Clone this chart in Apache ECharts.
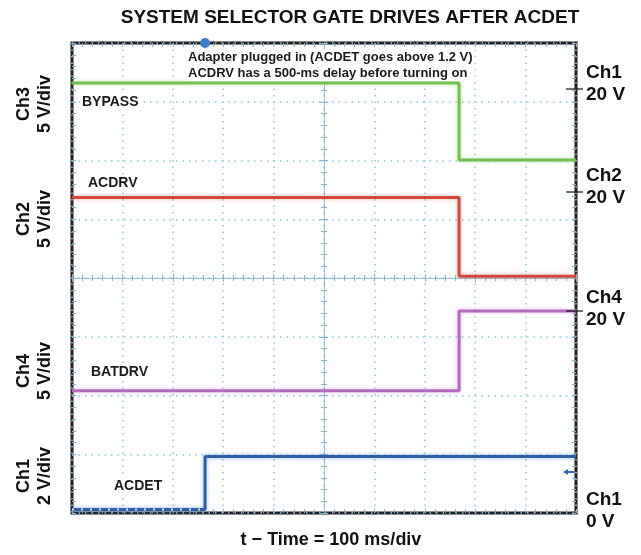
<!DOCTYPE html>
<html>
<head>
<meta charset="utf-8">
<title>System selector gate drives after ACDET</title>
<script src="https://cdn.jsdelivr.net/npm/echarts@6/dist/echarts.min.js"></script>
<style>
    html, body { margin: 0; padding: 0; background: #fff; }
    #main { width: 641px; height: 555px; }
</style>
</head>
<body>
<div id="main"></div>
<script>
// time in ms from screen centre (10 div x 100 ms), level in divisions from centre
var acdetTimes = [-500, -236, 500];
var acdetLevels = [-3.94, -3.04, -3.04];
var gateTimes = [-500, 268, 500];
var bypassLevels = [3.32, 2.01, 2.01];
var acdrvLevels = [1.37, 0.03, 0.03];
var batdrvLevels = [-1.92, -0.56, -0.56];

var traceNames = ['BYPASS', 'ACDRV', 'BATDRV', 'ACDET'];
var leftScales = ['Ch3\n5 V/div', 'Ch2\n5 V/div', 'Ch4\n5 V/div', 'Ch1\n2 V/div'];
var rightScales = ['Ch1\n20 V', 'Ch2\n20 V', 'Ch4\n20 V', 'Ch1\n0 V'];
var noteLines = ['Adapter plugged in (ACDET goes above 1.2 V)', 'ACDRV has a 500-ms delay before turning on'];
var titleText = 'SYSTEM SELECTOR GATE DRIVES AFTER ACDET';
var xTitle = 't \u2212 Time = 100 ms/div';

(function() {
    var FONT = '"Liberation Sans", Arial, Helvetica, sans-serif';
    var myChart = echarts.init(document.getElementById('main'), null, { renderer: 'canvas' });

    function pairs(times, levels) {
        return times.map(function(t, i) { return [t, levels[i]]; });
    }

    var tickStyle = { color: '#7fb6d0', width: 1 };
    var gridDots = { color: '#86c6e3', type: [1.5, 5], width: 1.5 };

    // centre cross (onZero) or frame edge ticks (edge = true)
    function axis(dim, pos, main, edge) {
        var a = {
            type: 'value', position: pos,
            axisLine: edge ? { show: false, onZero: false }
                           : { show: true, onZero: true, onZeroAxisIndex: 0, lineStyle: { color: '#9cc0d2', width: 1 } },
            axisTick: { show: true, inside: !!edge, length: 4, lineStyle: tickStyle },
            minorTick: { show: true, splitNumber: 5, length: edge ? 4 : 3, lineStyle: tickStyle },
            axisLabel: { show: false },
            splitLine: { show: main, lineStyle: gridDots }
        };
        if (dim === 'x') { a.min = -500; a.max = 500; a.interval = 100; }
        else { a.min = -4; a.max = 4; a.interval = 1; }
        return a;
    }

    function trace(name, data, color, glow) {
        return {
            name: name, type: 'line', step: 'end', data: data,
            showSymbol: false, silent: true, z: 5,
            lineStyle: { color: color, width: 3, shadowColor: glow, shadowBlur: 4 }
        };
    }

    var graphic = [];
    graphic.push({
        type: 'text', x: 350, y: 18,
        style: { text: titleText, font: 'bold 19px ' + FONT, fill: '#111', align: 'center', verticalAlign: 'middle' }
    });
    graphic.push({
        type: 'text', x: 331, y: 540,
        style: { text: xTitle, font: 'bold 18px ' + FONT, fill: '#111', align: 'center', verticalAlign: 'middle' }
    });
    graphic.push({
        type: 'text', x: 186, y: 49, z: 10,
        style: { text: noteLines.join('\n'), font: 'bold 13px ' + FONT, lineHeight: 16, fill: '#1a1a1a',
                 backgroundColor: '#fff', padding: [0, 2] }
    });

    var leftY = [104, 219, 371, 476];
    leftScales.forEach(function(s, i) {
        graphic.push({
            type: 'text', x: 35, y: leftY[i], rotation: Math.PI / 2,
            style: { text: s, font: 'bold 18px ' + FONT, lineHeight: 21, fill: '#111', align: 'center', verticalAlign: 'middle' }
        });
    });

    var rightY = [84, 187, 309, 511];
    rightScales.forEach(function(s, i) {
        graphic.push({
            type: 'text', x: 586, y: rightY[i],
            style: { text: s, font: 'bold 19px ' + FONT, lineHeight: 22, fill: '#111', align: 'left', verticalAlign: 'middle' }
        });
    });
    // channel reference marks on the right edge
    [89, 192, 311].forEach(function(y) {
        graphic.push({ type: 'line', shape: { x1: 566, y1: y, x2: 583, y2: y }, style: { stroke: '#111', lineWidth: 1.2 }, z: 10 });
    });
    // Ch1 offset arrow
    graphic.push({ type: 'polygon', shape: { points: [[563, 472], [568, 469], [568, 475]] }, style: { fill: '#2f6db5' }, z: 10 });
    graphic.push({ type: 'line', shape: { x1: 567, y1: 472, x2: 574, y2: 472 }, style: { stroke: '#2f6db5', lineWidth: 2 }, z: 10 });

    var labelPos = [[80, 102], [86, 183], [89, 372], [112, 486]];
    traceNames.forEach(function(n, i) {
        graphic.push({
            type: 'text', x: labelPos[i][0], y: labelPos[i][1], z: 10,
            style: { text: n, font: 'bold 14px ' + FONT, fill: '#1a1a1a', verticalAlign: 'middle',
                     backgroundColor: '#fff', padding: [1, 2] }
        });
    });

    var acdet = trace('ACDET', pairs(acdetTimes, acdetLevels), '#2d5fab', 'rgba(80,130,210,0.6)');
    acdet.markPoint = {
        symbol: 'circle', symbolSize: 10, silent: true,
        itemStyle: { color: '#3b7fcc' }, label: { show: false },
        data: [{ coord: [acdetTimes[1], 4] }]
    };

    var option = {
        animation: false,
        backgroundColor: '#fff',
        grid: { left: 72, right: 65, top: 43, bottom: 42, show: true, borderColor: '#231f20', borderWidth: 3, backgroundColor: '#fff' },
        xAxis: [axis('x', 'bottom', true), axis('x', 'top', false), axis('x', 'bottom', false, true), axis('x', 'top', false, true)],
        yAxis: [axis('y', 'left', true), axis('y', 'right', false), axis('y', 'left', false, true), axis('y', 'right', false, true)],
        graphic: graphic,
        series: [
            trace('BYPASS', pairs(gateTimes, bypassLevels), '#74c04f', 'rgba(140,210,110,0.6)'),
            trace('ACDRV', pairs(gateTimes, acdrvLevels), '#d2473b', 'rgba(230,120,110,0.6)'),
            trace('BATDRV', pairs(gateTimes, batdrvLevels), '#b469bf', 'rgba(210,150,220,0.6)'),
            acdet,
            {
                // pre-trigger ACDET looks broken up
                name: 'ACDET gaps', type: 'line', silent: true, showSymbol: false, z: 6,
                data: pairs(acdetTimes.slice(0, 2), [acdetLevels[0], acdetLevels[0]]),
                lineStyle: { color: '#dce7f5', width: 2, type: [2, 7] }
            }
        ]
    };

    myChart.setOption(option);
})();
</script>
</body>
</html>
